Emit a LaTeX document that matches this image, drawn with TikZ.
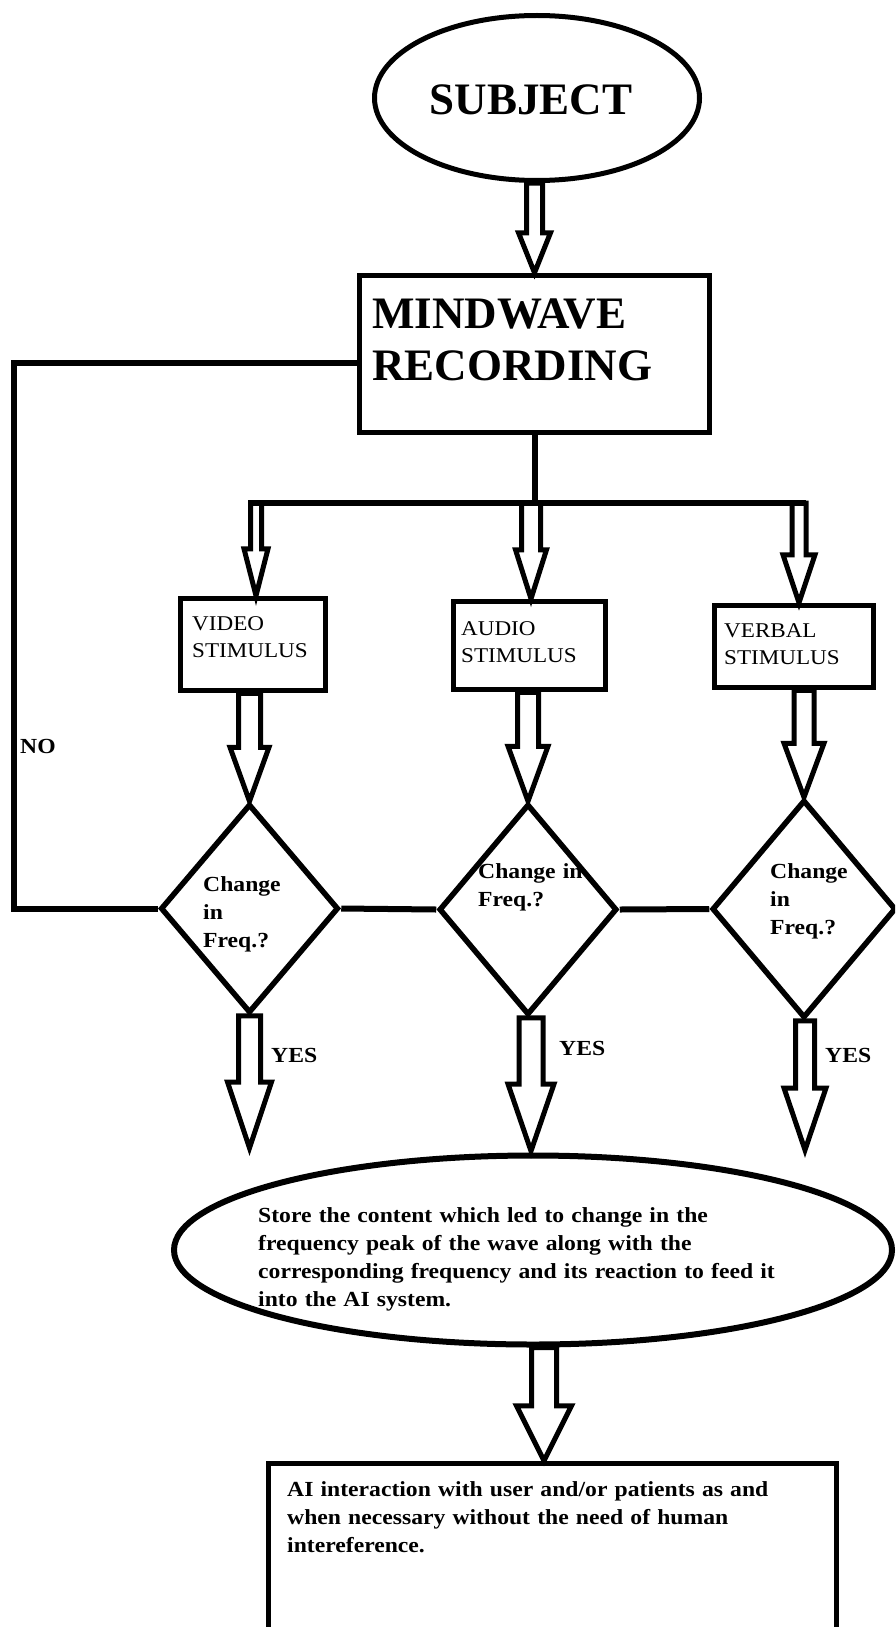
\documentclass[tikz,border=0pt]{standalone}
\usepackage{fontspec}
\setmainfont{Liberation Serif}
\newfontfamily\sfam[FakeStretch=1.1]{Liberation Serif}
\usetikzlibrary{shapes.geometric,calc,backgrounds}
\tikzset{
  box/.style={draw, line width=5.5pt, rectangle, inner sep=0pt},
  dia/.style={draw, line width=5.5pt, diamond, inner sep=0pt},
  ell/.style={draw, line width=5pt, ellipse, inner sep=0pt},
  conn/.style={line width=6pt},
  blk/.style={draw, fill=white, line width=5pt, line join=miter},
  txt/.style={inner sep=0pt, anchor=base west, align=left, text width=600pt},
  smallrm/.style={font=\sfam\fontsize{21}{27}\selectfont},
  smallbf/.style={font=\sfam\bfseries\fontsize{21.5}{28}\selectfont},
  bigbf/.style={font=\bfseries\fontsize{45}{52}\selectfont},
}
% hollow block arrow: start (#1), end (#2, only its y is used), shaft half width, head half width, head length
\newcommand{\blockarr}[5]{%
  \draw[blk] let \p1=(#1), \p2=(#2) in
    (\x1-#3pt,\y1) -- (\x1-#3pt,\y2+#5pt) -- (\x1-#4pt,\y2+#5pt) -- (\x1,\y2)
    -- (\x1+#4pt,\y2+#5pt) -- (\x1+#3pt,\y2+#5pt) -- (\x1+#3pt,\y1) -- cycle;}
\begin{document}
\begin{tikzpicture}[x=1pt,y=-1pt]
\useasboundingbox (0,0) rectangle (895,1627);
\clip (0,0) rectangle (895,1627);

% shapes
\node[ell, minimum width=325pt, minimum height=165pt] (subject) at (537,98) {};
\node[bigbf, inner sep=0pt, anchor=base] (subjtxt) at (531,115) {SUBJECT};

\node[box, minimum width=350pt, minimum height=157pt] (mind) at (534.5,354) {};
\node[txt, bigbf] (mindtxt) at (372,328) {MINDWAVE\\RECORDING};

\node[box, minimum width=145pt, minimum height=92pt] (video) at (253,644.5) {};
\node[box, minimum width=152pt, minimum height=88pt] (audio) at (529.5,645.5) {};
\node[box, minimum width=159pt, minimum height=82pt] (verbal) at (794,646.5) {};
\node[txt, smallrm] (vtxt) at (192,630) {VIDEO\\STIMULUS};
\node[txt, smallrm] (atxt) at (461,635) {AUDIO\\STIMULUS};
\node[txt, smallrm] (rtxt) at (724,637) {VERBAL\\STIMULUS};

\node[dia, minimum width=178pt, minimum height=209pt] (d1) at (249.5,908.5) {};
\node[dia, minimum width=178pt, minimum height=211pt] (d2) at (528,909.5) {};
\node[dia, minimum width=184pt, minimum height=218pt] (d3) at (804,909) {};
\node[txt, smallbf] (d1txt) at (203,891) {Change\\in\\Freq.?};
\node[txt, smallbf] (d2txt) at (478,878) {Change in\\Freq.?};
\node[txt, smallbf] (d3txt) at (770,878) {Change\\in\\Freq.?};

\node[ell, line width=6pt, minimum width=718pt, minimum height=189pt] (store) at (533,1250) {};
\node[txt, smallbf] (storetxt) at (258,1222) {Store the content which led to change in the\\frequency peak of the wave along with the\\corresponding frequency and its reaction to feed it\\into the AI system.};

\node[box, minimum width=568pt, minimum height=236.5pt] (final) at (552.5,1581.75) {};
\node[txt, smallbf] (aitxt) at (287,1496) {AI interaction with user and/or patients as and\\when necessary without the need of human\\intereference.};

% labels
\node[txt, smallbf] (no) at (20,753) {NO};
\node[txt, smallbf] (yes1) at (271,1062) {YES};
\node[txt, smallbf] (yes2) at (559,1055) {YES};
\node[txt, smallbf] (yes3) at (825,1062) {YES};

% connectors
\coordinate (busL) at (248,503);
\coordinate (busR) at (806,503);
\coordinate (busM) at (mind.south |- busL);
\coordinate (noTop) at (13.5,363);
\draw[conn] (mind.south) -- (busM);
\draw[conn] (busL) -- (busR);
\draw[conn] (mind.west |- noTop) -- (noTop) |- (d1.west);
\draw[conn] (d1.east) -- (d2.west);
\draw[conn] (d2.east) -- (d3.west);

% arrow anchor points
\coordinate (a1) at (256,503);
\coordinate (a2) at (531,503);
\coordinate (a3) at (799,503);
\coordinate (c1) at (249,1148);
\coordinate (c2) at (531,1151);
\coordinate (c3) at (805,1150);
\coordinate (e1) at (544,1300);

\begin{scope}[on background layer]
\blockarr{mind.north |- subject.south}{mind.north}{8}{16}{40}
\blockarr{a1}{video.north}{5.5}{12}{47}
\blockarr{a2}{audio.north}{9.5}{15.5}{49}
\blockarr{a3}{verbal.north}{7}{16}{48}
\blockarr{video.south -| d1.north}{d1.north}{11}{19.5}{54}
\blockarr{audio.south -| d2.north}{d2.north}{10.5}{20}{55}
\blockarr{verbal.south -| d3.north}{d3.north}{10}{20}{54}
\blockarr{d1.south}{c1}{11}{22}{66}
\blockarr{d2.south -| c2}{c2}{12}{23}{67}
\blockarr{d3.south -| c3}{c3}{9.5}{21}{62}
\blockarr{store.south -| e1}{final.north}{12.5}{27.5}{55}
\end{scope}
\end{tikzpicture}
\end{document}
